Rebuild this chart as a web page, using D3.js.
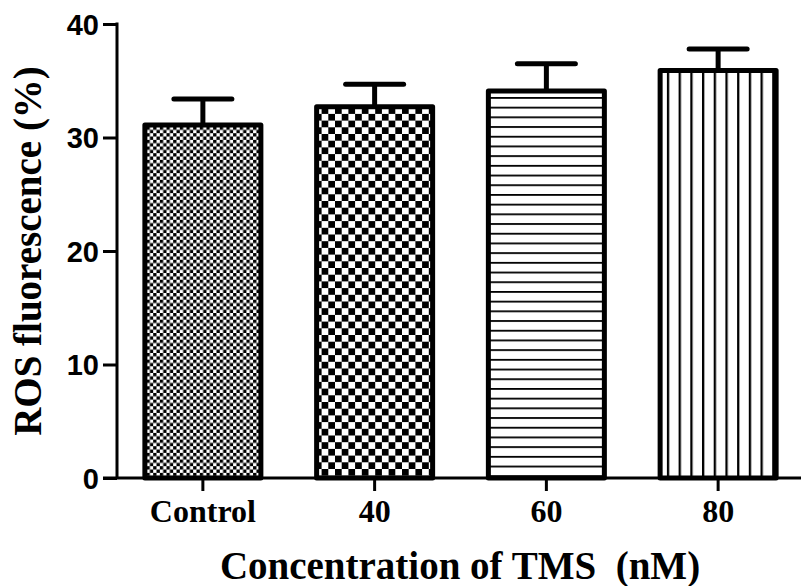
<!DOCTYPE html>
<html>
<head>
<meta charset="utf-8">
<script src="https://cdn.jsdelivr.net/npm/d3@7"></script>
<style>
  html, body { margin: 0; padding: 0; background: #fff; }
  svg { display: block; }
</style>
</head>
<body>
<div id="chart"></div>
<script>
// ---- data ----
const categories = ["Control", "40", "60", "80"];
const meanValues = [31.1, 32.7, 34.1, 35.9];
const errorValues = [2.3, 2.0, 2.4, 1.9];
const patternIds = ["checkFine", "checkCoarse", "hLines", "vLines"];
const yTicks = [0, 10, 20, 30, 40];
const yLabel = "ROS fluorescence (%)";
const xLabel = "Concentration of TMS  (nM)";

const W = 801, H = 586;
const svg = d3.select("#chart").append("svg")
  .attr("width", W).attr("height", H);

// ---- patterns ----
const defs = svg.append("defs");
let p = defs.append("pattern").attr("id", "checkFine")
  .attr("patternUnits", "userSpaceOnUse").attr("width", 6.66).attr("height", 6.66);
p.append("rect").attr("width", 6.66).attr("height", 6.66).attr("fill", "#fff");
p.append("rect").attr("width", 3.33).attr("height", 3.33).attr("fill", "#000");
p.append("rect").attr("x", 3.33).attr("y", 3.33).attr("width", 3.33).attr("height", 3.33).attr("fill", "#000");
p = defs.append("pattern").attr("id", "checkCoarse")
  .attr("patternUnits", "userSpaceOnUse").attr("width", 13.4).attr("height", 13.4);
p.append("rect").attr("width", 13.4).attr("height", 13.4).attr("fill", "#fff");
p.append("rect").attr("width", 6.7).attr("height", 6.7).attr("fill", "#000");
p.append("rect").attr("x", 6.7).attr("y", 6.7).attr("width", 6.7).attr("height", 6.7).attr("fill", "#000");
p = defs.append("pattern").attr("id", "hLines")
  .attr("patternUnits", "userSpaceOnUse").attr("width", 10).attr("height", 9.7);
p.append("rect").attr("width", 10).attr("height", 9.7).attr("fill", "#fff");
p.append("rect").attr("y", 0).attr("width", 10).attr("height", 1.8).attr("fill", "#000");
p = defs.append("pattern").attr("id", "vLines")
  .attr("patternUnits", "userSpaceOnUse").attr("width", 11.7).attr("height", 10);
p.append("rect").attr("width", 11.7).attr("height", 10).attr("fill", "#fff");
p.append("rect").attr("x", 0).attr("width", 2.3).attr("height", 10).attr("fill", "#000");

// ---- scales ----
const axisX = 117, axisY = 478;
const x = d3.scaleBand().domain(categories).range([117, 804]).paddingInner(0.3).paddingOuter(0.15);
const y = d3.scaleLinear().domain([0, 40]).range([axisY, 24]);

// ---- bars ----
const bw = 116;
const g = svg.append("g");
categories.forEach((c, i) => {
  const cx = x(c) + x.bandwidth() / 2;
  const top = y(meanValues[i]);
  const errTop = y(meanValues[i] + errorValues[i]);
  g.append("line").attr("x1", cx).attr("x2", cx).attr("y1", top).attr("y2", errTop)
    .attr("stroke", "#000").attr("stroke-width", 5);
  g.append("line").attr("x1", cx - 29).attr("x2", cx + 29).attr("y1", errTop).attr("y2", errTop)
    .attr("stroke", "#000").attr("stroke-width", 5).attr("stroke-linecap", "round");
  g.append("rect")
    .attr("x", cx - bw / 2).attr("y", top)
    .attr("width", bw).attr("height", axisY - top)
    .attr("fill", `url(#${patternIds[i]})`)
    .attr("stroke", "#000").attr("stroke-width", 5).attr("stroke-linejoin", "round");
});

// ---- axes ----
const yAxis = d3.axisLeft(y).tickValues(yTicks).tickSize(14).tickPadding(4).tickSizeOuter(0);
const yg = svg.append("g").attr("transform", `translate(${axisX},0)`).call(yAxis);
yg.select(".domain").attr("stroke-width", 3).attr("d", `M0,${y(40) - 1.5}V${axisY}`);
yg.selectAll(".tick line").attr("stroke-width", 3);
yg.selectAll(".tick text")
  .style("font-family", "'Liberation Sans', Arial, sans-serif")
  .style("font-weight", "bold").style("font-size", "29px").attr("fill", "#000")
  .attr("dy", "0.36em");

const xAxis = d3.axisBottom(x).tickSize(13).tickPadding(8).tickSizeOuter(0);
const xg = svg.append("g").attr("transform", `translate(0,${axisY})`).call(xAxis);
xg.select(".domain").attr("stroke-width", 3).attr("d", `M${axisX - 14},0H${W}`);
xg.selectAll(".tick line").attr("stroke-width", 3);
xg.selectAll(".tick text")
  .style("font-family", "'Liberation Serif', 'Times New Roman', serif")
  .style("font-weight", "bold").style("font-size", "32px").attr("fill", "#000");

// ---- axis titles ----
svg.append("text")
  .attr("transform", `translate(41,251) rotate(-90)`)
  .attr("text-anchor", "middle")
  .style("font-family", "'Liberation Serif', 'Times New Roman', serif")
  .style("font-weight", "bold").style("font-size", "39px")
  .text(yLabel);

svg.append("text")
  .attr("x", 460).attr("y", 579)
  .attr("text-anchor", "middle")
  .style("font-family", "'Liberation Serif', 'Times New Roman', serif")
  .style("font-weight", "bold").style("font-size", "39px")
  .style("white-space", "pre")
  .attr("xml:space", "preserve")
  .text(xLabel);
</script>
</body>
</html>
